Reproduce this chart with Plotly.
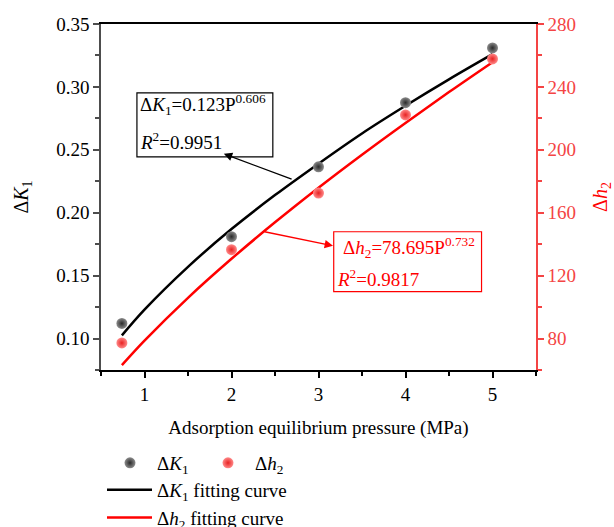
import plotly.graph_objects as go

# ---- data ----
pressure = [0.74, 2, 3, 4, 5]
dK1 = [0.112, 0.181, 0.2365, 0.2875, 0.331]
dh2 = [77.2, 136.5, 172.5, 222.2, 257.8]

fit_x = [0.74, 1, 1.5, 2, 2.5, 3, 3.5, 4, 4.5, 5]
fit_k1 = [0.1025, 0.123, 0.157, 0.187, 0.214, 0.239, 0.263, 0.285, 0.306, 0.326]
fit_h2 = [63.1, 78.7, 105.9, 130.7, 153.9, 175.9, 196.9, 217.1, 236.7, 255.7]

x_ticks = [1, 2, 3, 4, 5]

FONT = "Liberation Serif, Times New Roman, serif"
RED = "#ff0000"
AXRED = "#f44444"

# plot-area pixel geometry helpers for legend placement (paper coords)
PL, PR, PT, PB = 101, 536, 24, 370
def px_x(px):
    return (px - PL) / (PR - PL)
def px_y(py):
    return (PB - py) / (PB - PT)

fig = go.Figure()

fig.add_trace(go.Scatter(
    x=fit_x, y=fit_k1, mode="lines", line=dict(color="black", width=2.5, shape="spline"),
    name="Δ<i>K</i><sub>1</sub> fitting curve", legend="legend2"))
fig.add_trace(go.Scatter(
    x=fit_x, y=fit_h2, mode="lines", line=dict(color=RED, width=2.5, shape="spline"),
    name="Δ<i>h</i><sub>2</sub> fitting curve", yaxis="y2", legend="legend2"))
fig.add_trace(go.Scatter(
    x=pressure, y=dK1, mode="markers",
    marker=dict(size=11, color="#8c8c8c", gradient=dict(type="radial", color="#2a2a2a"),
                line=dict(width=0)),
    name="Δ<i>K</i><sub>1</sub>", legend="legend"))
fig.add_trace(go.Scatter(
    x=pressure, y=dh2, mode="markers",
    marker=dict(size=11, color="#ff8a8a", gradient=dict(type="radial", color="#e82222"),
                line=dict(width=0)),
    name="Δ<i>h</i><sub>2</sub>", yaxis="y2", legend="legend"))

# annotation boxes
fig.add_shape(type="rect", xref="x", yref="y", x0=0.913, x1=2.475, y0=0.2444, y1=0.2952,
              line=dict(color="black", width=1.2), fillcolor="white", layer="above")
fig.add_shape(type="rect", xref="x", yref="y", x0=3.175, x1=4.874, y0=0.1373, y1=0.1849,
              line=dict(color=RED, width=1.2), fillcolor="white", layer="above")

tfont = dict(family=FONT, size=19, color="black")
rfont = dict(family=FONT, size=19, color=RED)
fig.add_annotation(x=0.93, y=0.2857, xref="x", yref="y", xanchor="left", yanchor="middle",
                   text="Δ<i>K</i><sub>1</sub>=0.123P<sup>0.606</sup>", showarrow=False, font=tfont)
fig.add_annotation(x=0.93, y=0.2571, xref="x", yref="y", xanchor="left", yanchor="middle",
                   text="<i>R</i><sup>2</sup>=0.9951", showarrow=False, font=tfont)
fig.add_annotation(x=3.26, y=0.1722, xref="x", yref="y", xanchor="left", yanchor="middle",
                   text="Δ<i>h</i><sub>2</sub>=78.695P<sup>0.732</sup>", showarrow=False, font=rfont)
fig.add_annotation(x=3.19, y=0.1484, xref="x", yref="y", xanchor="left", yanchor="middle",
                   text="<i>R</i><sup>2</sup>=0.9817", showarrow=False, font=rfont)

# arrows (head at box, tail at curve)
fig.add_annotation(x=1.912, y=0.2468, xref="x", yref="y", ax=2.708, ay=0.2262,
                   axref="x", ayref="y", text="", showarrow=True, arrowhead=2,
                   arrowsize=1.2, arrowwidth=1.4, arrowcolor="black", standoff=0, startstandoff=0)
fig.add_annotation(x=3.167, y=139.0, xref="x", yref="y2", ax=2.363, ay=148.1,
                   axref="x", ayref="y2", text="", showarrow=True, arrowhead=2,
                   arrowsize=1.2, arrowwidth=1.4, arrowcolor=RED, standoff=0, startstandoff=0)

fig.update_layout(
    width=614, height=527,
    margin=dict(l=PL, r=614 - PR, t=PT, b=527 - PB, autoexpand=False),
    paper_bgcolor="white", plot_bgcolor="white",
    font=dict(family=FONT, size=19, color="black"),
    xaxis=dict(range=[0.5, 5.5], tickvals=x_ticks, showgrid=False, zeroline=False,
               showline=True, linecolor="black", linewidth=1.5, mirror=True,
               ticks="outside", ticklen=6, tickwidth=1.5, tickcolor="black",
               minor=dict(dtick=0.5, tick0=0.5, ticks="outside", ticklen=4, tickwidth=1.5, tickcolor="black"),
               title=dict(text="Adsorption equilibrium pressure (MPa)", standoff=17,
                          font=dict(size=19)),
               tickfont=dict(size=19), automargin=False),
    yaxis=dict(range=[0.075, 0.35], dtick=0.05, tick0=0, tickformat=".2f", showgrid=False,
               zeroline=False, showline=True, linecolor="#4d4d4d", linewidth=1.5,
               ticks="outside", ticklen=6, tickwidth=1.5, tickcolor="#4d4d4d",
               minor=dict(dtick=0.025, tick0=0, ticks="outside", ticklen=4, tickwidth=1.5, tickcolor="#4d4d4d"),
               title=dict(text="Δ<i>K</i><sub>1</sub>", standoff=22, font=dict(size=20)),
               tickfont=dict(size=19), automargin=False),
    yaxis2=dict(range=[60, 280], dtick=40, tick0=0, overlaying="y", side="right",
                showgrid=False, zeroline=False, showline=True, linecolor=AXRED, linewidth=1.5,
                ticks="outside", ticklen=6, tickwidth=1.5, tickcolor=AXRED,
                minor=dict(dtick=20, tick0=0, ticks="outside", ticklen=4, tickwidth=1.5, tickcolor=AXRED),
                title=dict(text="Δ<i>h</i><sub>2</sub>", standoff=19, font=dict(size=20, color=RED)),
                tickfont=dict(size=19, color=AXRED), automargin=False),
    legend=dict(orientation="h", x=px_x(103), y=px_y(444), xanchor="left", yanchor="top",
                entrywidth=39, entrywidthmode="pixels", itemwidth=44,
                font=dict(size=19), bgcolor="rgba(0,0,0,0)", itemsizing="trace",
                traceorder="normal"),
    legend2=dict(orientation="v", x=px_x(102), y=px_y(471), xanchor="left", yanchor="top",
                 itemwidth=45,
                 font=dict(size=19), bgcolor="rgba(0,0,0,0)", tracegroupgap=0),
    showlegend=True,
)

fig.write_html("out.html")
